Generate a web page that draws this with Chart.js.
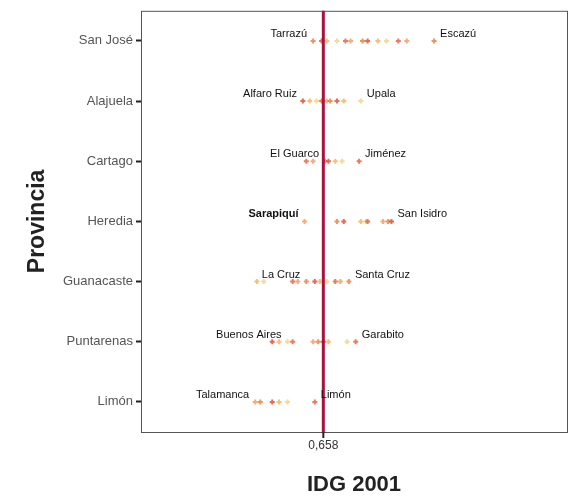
<!DOCTYPE html>
<html>
<head>
<meta charset="utf-8">
<script src="https://cdn.jsdelivr.net/npm/chart.js@4/dist/chart.umd.min.js"></script>
<style>
  body { margin: 0; background: #fff; }
  #wrap { width: 575px; height: 502px; }
</style>
</head>
<body>
<div id="wrap"><canvas id="graficoIDG"></canvas></div>
<script>
// provincias (eje y)
const provincias = ['San José', 'Alajuela', 'Cartago', 'Heredia', 'Guanacaste', 'Puntarenas', 'Limón'];

// valores IDG 2001 por cantón
const sanJose    = [0.652, 0.657, 0.660, 0.666, 0.671, 0.674, 0.681, 0.684, 0.690, 0.695, 0.702, 0.707, 0.723];
const alajuela   = [0.646, 0.650, 0.654, 0.657, 0.660, 0.662, 0.666, 0.670, 0.680];
const cartago    = [0.648, 0.652, 0.659, 0.661, 0.665, 0.669, 0.679];
const heredia    = [0.647, 0.666, 0.670, 0.680, 0.683, 0.684, 0.693, 0.696, 0.698];
const guanacaste = [0.619, 0.623, 0.640, 0.643, 0.648, 0.653, 0.656, 0.660, 0.665, 0.668, 0.673];
const puntarenas = [0.628, 0.632, 0.637, 0.640, 0.652, 0.655, 0.658, 0.661, 0.672, 0.677];
const limon      = [0.618, 0.621, 0.628, 0.632, 0.637, 0.653];

// cantones extremos con etiqueta
const cantonesIzq = ['Tarrazú', 'Alfaro Ruiz', 'El Guarco', 'Sarapiquí', 'La Cruz', 'Buenos Aires', 'Talamanca'];
const valoresIzq  = [0.652, 0.646, 0.659, 0.647, 0.648, 0.637, 0.618];
const cantonesDer = ['Escazú', 'Upala', 'Jiménez', 'San Isidro', 'Santa Cruz', 'Garabito', 'Limón'];
const valoresDer  = [0.723, 0.680, 0.679, 0.698, 0.673, 0.677, 0.653];

const promedio = 0.658;

const series = [sanJose, alajuela, cartago, heredia, guanacaste, puntarenas, limon];
const colores = ['rgba(238,122,51,0.8)', 'rgba(232,64,46,0.8)', 'rgba(244,165,60,0.7)',
                 'rgba(242,194,79,0.6)', 'rgba(234,90,52,0.8)', 'rgba(240,140,69,0.7)'];

let puntos = [];
for (let i = 0; i < series.length; i++) {
    for (let j = 0; j < series[i].length; j++) {
        puntos.push({ x: series[i][j], y: provincias[i] });
    }
}

// caja, línea de referencia y etiquetas
const extras = {
    id: 'extras',
    afterDatasetsDraw(chart) {
        const ctx = chart.ctx;
        const a = chart.chartArea;
        const sx = chart.scales.x, sy = chart.scales.y;
        ctx.save();
        ctx.strokeStyle = '#555';
        ctx.lineWidth = 1;
        ctx.strokeRect(a.left + 0.5, a.top + 0.5, a.right - a.left, a.bottom - a.top);

        const xp = sx.getPixelForValue(promedio);
        ctx.strokeStyle = '#a8123c';
        ctx.lineWidth = 3;
        ctx.beginPath();
        ctx.moveTo(xp, a.top);
        ctx.lineTo(xp, a.bottom);
        ctx.stroke();
        ctx.strokeStyle = '#222';
        ctx.lineWidth = 2;
        ctx.beginPath();
        ctx.moveTo(xp, a.bottom);
        ctx.lineTo(xp, a.bottom + 6);
        ctx.stroke();

        ctx.fillStyle = '#111';
        ctx.textBaseline = 'middle';
        for (let i = 0; i < provincias.length; i++) {
            const yp = sy.getPixelForValue(i) - 7;
            ctx.font = (cantonesIzq[i] === 'Sarapiquí' ? 'bold ' : '') + '11px "Liberation Sans", Arial';
            ctx.textAlign = 'right';
            ctx.fillText(cantonesIzq[i], sx.getPixelForValue(valoresIzq[i]) - 6, yp);
            ctx.font = '11px "Liberation Sans", Arial';
            ctx.textAlign = 'left';
            ctx.fillText(cantonesDer[i], sx.getPixelForValue(valoresDer[i]) + 6, yp);
        }
        ctx.restore();
    }
};

const config = {
    type: 'scatter',
    data: {
        datasets: [{
            label: 'IDG 2001',
            data: puntos,
            pointStyle: 'cross',
            pointRadius: 2.5,
            borderWidth: 2,
            borderColor: function (c) { return colores[c.dataIndex % colores.length]; },
            backgroundColor: function (c) { return colores[c.dataIndex % colores.length]; }
        }]
    },
    options: {
        responsive: true,
        maintainAspectRatio: false,
        animation: false,
        layout: { padding: { left: 0, right: 8, top: 8, bottom: 0 } },
        plugins: { legend: { display: false }, tooltip: { enabled: false } },
        scales: {
            x: {
                type: 'linear',
                min: 0.551,
                max: 0.801,
                afterBuildTicks: function (s) { s.ticks = [{ value: promedio }]; },
                afterFit: function (s) { s.height = 70; },
                ticks: {
                    callback: function () { return '0,658'; },
                    color: '#333',
                    font: { family: '"Liberation Sans", Arial', size: 12 },
                    padding: 6
                },
                grid: { display: false, drawTicks: false },
                border: { display: false },
                title: {
                    display: true,
                    text: 'IDG 2001',
                    color: '#222',
                    font: { family: '"Liberation Sans", Arial', size: 22, weight: 'bold' },
                    padding: { top: 10 }
                }
            },
            y: {
                type: 'category',
                labels: provincias,
                offset: true,
                afterFit: function (s) { s.width = 141; },
                ticks: {
                    color: '#555',
                    font: { family: '"Liberation Sans", Arial', size: 13 },
                    padding: 3
                },
                grid: { drawOnChartArea: false, tickLength: 5, color: '#222', tickWidth: 2 },
                border: { display: false },
                title: {
                    display: true,
                    text: 'Provincia',
                    color: '#222',
                    font: { family: '"Liberation Sans", Arial', size: 23, weight: 'bold' },
                    padding: { top: 24, bottom: 0 }
                }
            }
        }
    },
    plugins: [extras]
};

new Chart(document.getElementById('graficoIDG'), config);
</script>
</body>
</html>
